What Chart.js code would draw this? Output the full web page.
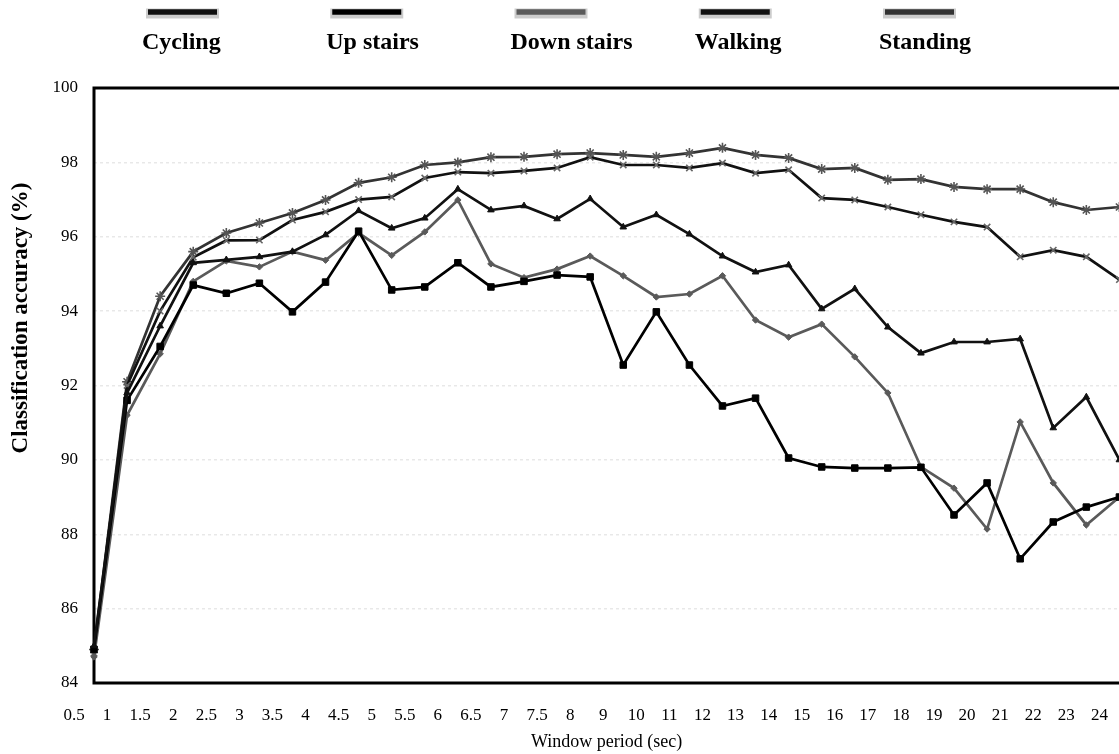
<!DOCTYPE html>
<html>
<head>
<meta charset="utf-8">
<script src="https://cdn.jsdelivr.net/npm/chart.js@4.4.1/dist/chart.umd.min.js"></script>
<style>
  html, body { margin: 0; padding: 0; background: #fff; overflow: hidden; width: 1119px; height: 754px; }
  /* the original figure is cropped at the right edge, so the plot runs past the window */
  #wrap { width: 1126px; height: 754px; position: relative; }
</style>
</head>
<body>
<div id="wrap"><canvas id="accChart"></canvas></div>
<script>
// window periods (sec) on the x axis
const windowLabels = ['0.5','1','1.5','2','2.5','3','3.5','4','4.5','5','5.5','6','6.5','7','7.5','8',
                      '9','10','11','12','13','14','15','16','17','18','19','20','21','22','23','24'];

// classification accuracy (%) per activity
const cycling    = [85.0, 91.8, 93.6, 95.3, 95.38, 95.46, 95.6, 96.05, 96.7, 96.23, 96.5, 97.28, 96.72, 96.83, 96.48, 97.02,
                    96.26, 96.59, 96.07, 95.48, 95.05, 95.24, 94.06, 94.6, 93.57, 92.87, 93.17, 93.17, 93.25, 90.86, 91.69, 90.0];
const upStairs   = [84.9, 91.6, 93.05, 94.7, 94.48, 94.75, 93.98, 94.78, 96.15, 94.57, 94.65, 95.3, 94.65, 94.8, 94.97, 94.92,
                    92.55, 93.98, 92.55, 91.45, 91.66, 90.05, 89.81, 89.78, 89.78, 89.8, 88.52, 89.38, 87.34, 88.33, 88.73, 89.0];
const downStairs = [84.7, 91.2, 92.85, 94.8, 95.35, 95.19, 95.6, 95.37, 96.1, 95.5, 96.13, 96.99, 95.27, 94.9, 95.13, 95.48,
                    94.95, 94.38, 94.46, 94.95, 93.76, 93.3, 93.65, 92.77, 91.8, 89.81, 89.24, 88.14, 91.02, 89.38, 88.25, 89.0];
const walking    = [84.8, 92.0, 94.0, 95.45, 95.9, 95.91, 96.45, 96.67, 97.0, 97.07, 97.58, 97.74, 97.71, 97.77, 97.85, 98.14,
                    97.93, 97.93, 97.85, 97.98, 97.71, 97.8, 97.04, 96.99, 96.8, 96.59, 96.4, 96.26, 95.46, 95.64, 95.46, 94.85];
const standing   = [84.9, 92.1, 94.4, 95.6, 96.1, 96.37, 96.64, 96.99, 97.45, 97.6, 97.93, 98.0, 98.14, 98.15, 98.22, 98.25,
                    98.2, 98.15, 98.25, 98.39, 98.2, 98.12, 97.82, 97.85, 97.53, 97.55, 97.34, 97.28, 97.28, 96.93, 96.72, 96.8];

const yMin = 84, yMax = 100, yStep = 2;

const SERIF = '"Liberation Serif", "DejaVu Serif", serif';

// legend drawn as a line sample above each label
const topLegend = {
  id: 'topLegend',
  afterDraw(chart) {
    const ctx = chart.ctx;
    ctx.save();
    ctx.font = 'bold 24px ' + SERIF;
    ctx.textAlign = 'left';
    ctx.textBaseline = 'alphabetic';
    chart.data.datasets.forEach((ds, i) => {
      const x = 142 + i * 184.25;
      ctx.lineCap = 'butt';
      ctx.strokeStyle = 'rgba(0,0,0,0.2)';
      ctx.lineWidth = 10;
      ctx.beginPath(); ctx.moveTo(x + 4, 13.5); ctx.lineTo(x + 77, 13.5); ctx.stroke();
      ctx.strokeStyle = ds.borderColor;
      ctx.lineWidth = 5.5;
      ctx.beginPath(); ctx.moveTo(x + 6, 12); ctx.lineTo(x + 75, 12); ctx.stroke();
      ctx.fillStyle = '#000';
      ctx.fillText(ds.label, x, 49);
    });
    ctx.restore();
  }
};

// left / top / bottom frame of the plot
const plotFrame = {
  id: 'plotFrame',
  beforeDatasetsDraw(chart) {
    const { ctx, chartArea: a } = chart;
    ctx.save();
    ctx.strokeStyle = '#000';
    ctx.lineWidth = 3;
    ctx.beginPath();
    ctx.moveTo(a.right + 6, a.top);
    ctx.lineTo(a.left, a.top);
    ctx.lineTo(a.left, a.bottom);
    ctx.lineTo(a.right + 6, a.bottom);
    ctx.stroke();
    ctx.restore();
  }
};

// y axis title sits a bit above the middle in the original
const yTitle = {
  id: 'yTitle',
  afterDraw(chart) {
    const ctx = chart.ctx;
    ctx.save();
    ctx.translate(21, 318);
    ctx.rotate(-Math.PI / 2);
    ctx.font = 'bold 23px ' + SERIF;
    ctx.fillStyle = '#000';
    ctx.textAlign = 'center';
    ctx.textBaseline = 'middle';
    ctx.fillText('Classification accuracy (%)', 0, 0);
    ctx.restore();
  }
};

function series(label, data, color, style, radius, pointColor, filled) {
  return {
    label: label,
    data: data,
    borderColor: color,
    borderWidth: 2.7,
    tension: 0,
    pointStyle: style,
    pointRadius: radius,
    pointBorderWidth: filled ? 1 : 1.6,
    pointBorderColor: pointColor,
    pointBackgroundColor: pointColor,
    fill: false
  };
}

const ctx = document.getElementById('accChart').getContext('2d');
new Chart(ctx, {
  type: 'line',
  data: {
    labels: windowLabels,
    datasets: [
      series('Cycling', cycling, '#111111', 'triangle', 3.8, '#111111', true),
      series('Up stairs', upStairs, '#000000', 'rect', 4.6, '#000000', true),
      series('Down stairs', downStairs, '#5a5a5a', 'rectRot', 3.2, '#5a5a5a', true),
      series('Walking', walking, '#111111', 'crossRot', 4.5, '#666666', false),
      series('Standing', standing, '#333333', 'star', 5, '#555555', false)
    ]
  },
  options: {
    responsive: true,
    maintainAspectRatio: false,
    animation: false,
    layout: { padding: { top: 88, left: 0, right: 0, bottom: 0 } },
    plugins: {
      legend: { display: false },
      tooltip: { enabled: false }
    },
    scales: {
      x: {
        type: 'category',
        offset: false,
        grid: { display: false, drawTicks: false },
        border: { display: false },
        ticks: {
          autoSkip: false,
          maxRotation: 0,
          padding: 22,
          labelOffset: -20,
          color: '#000',
          font: { family: SERIF, size: 17 }
        },
        title: {
          display: true,
          text: 'Window period (sec)',
          color: '#000',
          font: { family: SERIF, size: 18 },
          padding: { top: 0, bottom: 1 }
        },
        afterFit(scale) {
          scale.height = 71;
          scale.paddingLeft = 0;
          scale.paddingRight = 0;
        }
      },
      y: {
        min: yMin,
        max: yMax,
        grid: { color: 'rgba(0,0,0,0.09)', lineWidth: 1.5, drawTicks: false },
        border: { display: false, dash: [3, 3] },
        ticks: {
          stepSize: yStep,
          padding: 16,
          color: '#000',
          font: { family: SERIF, size: 17 }
        },
        afterFit(scale) {
          scale.width = 94;
        }
      }
    }
  },
  plugins: [plotFrame, topLegend, yTitle]
});
</script>
</body>
</html>
